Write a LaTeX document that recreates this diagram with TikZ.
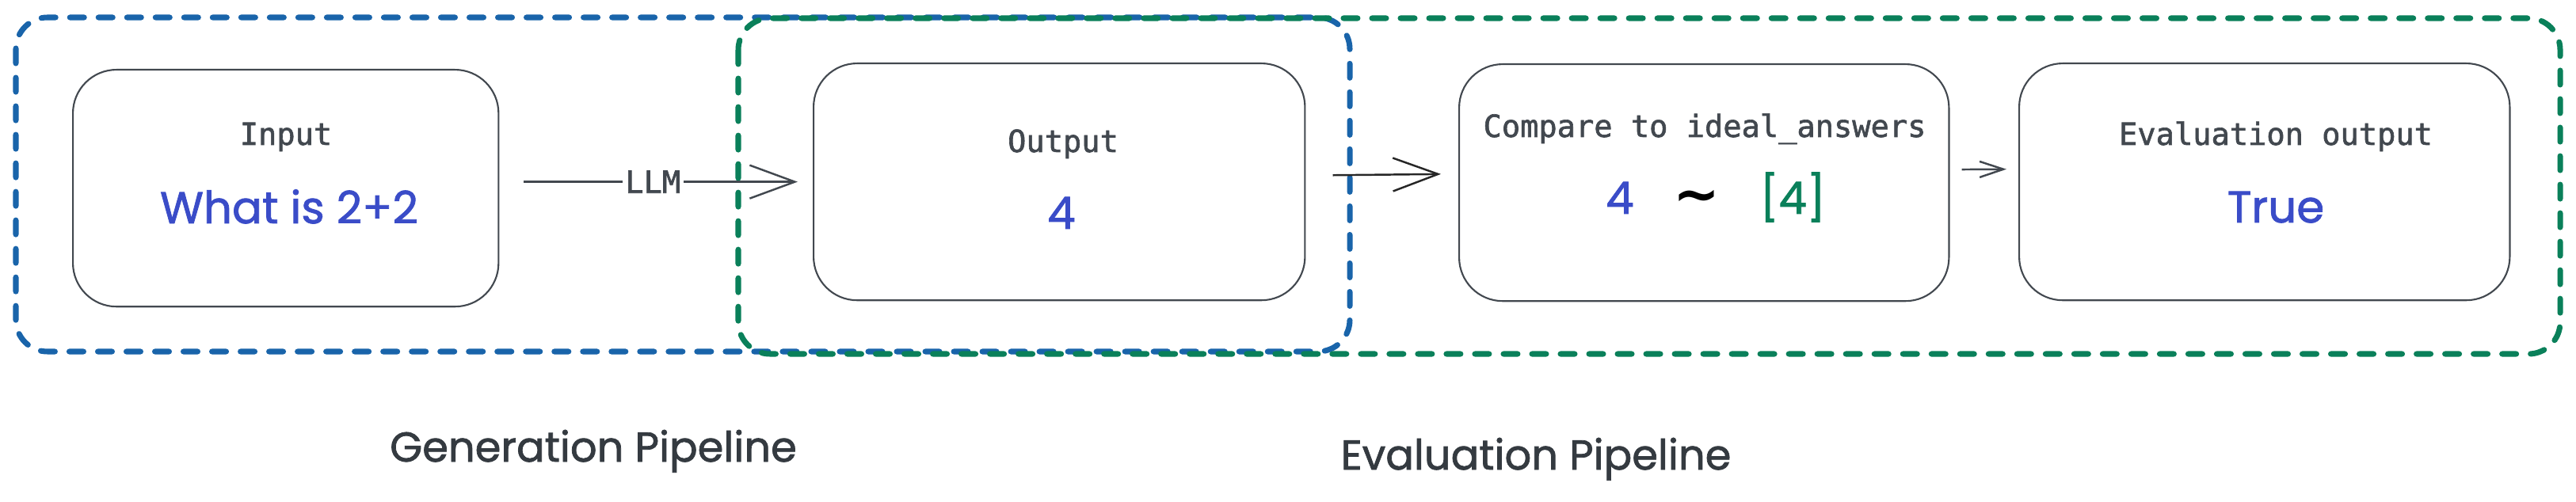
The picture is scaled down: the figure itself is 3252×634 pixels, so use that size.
\documentclass[tikz,border=0pt]{standalone}
\usepackage{fontspec}
\usepackage{xcolor}
\usepackage{tikz}
\usetikzlibrary{arrows.meta}
\newfontfamily\codefont{DejaVu Sans Mono}[FakeBold=1.6]
\newfontfamily\handfont{Poppins}[FakeBold=1.4]
\newfontfamily\symfont{DejaVu Sans}

\begin{document}
\begin{tikzpicture}[x=0.01cm, y=-0.01cm]
  % Colors
  \definecolor{gencol}{RGB}{25,100,170}
  \definecolor{evalcol}{RGB}{10,128,90}
  \definecolor{valcol}{RGB}{58,76,200}
  \definecolor{labcol}{RGB}{66,72,79}
  \definecolor{notecol}{RGB}{52,58,64}
  %
  \tikzset{
    stagebox/.style={draw=labcol, line width=0.6pt, rounded corners=0.55cm, minimum height=2.99cm,
                     inner sep=0pt, anchor=north west},
    boxtitle/.style={font=\codefont\fontsize{11}{13}\selectfont, text=labcol, anchor=base},
    boxvalue/.style={font=\handfont\fontsize{16}{19}\selectfont, text=valcol, anchor=base},
    pipe/.style={line width=2pt, dash pattern=on 0.18cm off 0.18cm, line cap=round, rounded corners=0.4cm},
    flow/.style={draw=labcol, line width=0.7pt, -{Straight Barb[length=0.57cm, width=0.42cm]}},
    pipelabel/.style={font=\handfont\fontsize{15}{18}\selectfont, text=notecol, anchor=base},
  }
  \useasboundingbox (0,0) rectangle (3252,634);
  %
  %%% PIPELINES %%%
  \draw[pipe, gencol] (20,22) rectangle (1704,444);
  \draw[pipe, evalcol] (932,23) rectangle (3232,447);
  %
  % Stage boxes
  \foreach \nm/\x/\y/\w in {input/91/87/5.37, output/1026/79/6.20, compare/1841/80/6.18, evalout/2548/79/6.19} {
    \node[stagebox, minimum width=\w cm] (\nm) at (\x, \y) {};
  }
  %
  % Titles
  \node[boxtitle] (inputtitle) at (361, 183) {Input};
  \node[boxtitle] (outputtitle) at (1342, 192) {Output};
  \node[boxtitle] (comparetitle) at (2152, 173) {Compare to ideal\_answers};
  \node[boxtitle] (evalouttitle) at (2873, 183) {Evaluation output};
  %
  % Values
  \node[boxvalue] (inputval) at (365, 282) {What is 2+2};
  \node[boxvalue] (outputval) at (1340, 289) {4};
  \node[boxvalue] (compareval) at (2166, 270)
    {4\hspace{0.5cm}\textcolor{black}{\symfont\bfseries\fontsize{20}{20}\selectfont\textasciitilde}\hspace{0.5cm}\textcolor{evalcol}{[4]}};
  \node[boxvalue] (evaloutval) at (2873, 281) {True};
  %
  % Arrows
  \draw[flow, shorten <=0.31cm, shorten >=0.19cm] (input.east |- output.west) --
    node[pos=0.49, fill=white, inner sep=1pt, font=\codefont\fontsize{11}{13}\selectfont, text=labcol] (llm) {LLM}
    (output.west);
  \draw[flow, draw=black!85, shorten <=0.34cm, shorten >=0.22cm] ([yshift=0.08cm]output.east) -- ([yshift=0.11cm]compare.west);
  \draw[flow, -{Straight Barb[length=0.30cm, width=0.20cm]}, shorten <=0.15cm, shorten >=0.15cm]
    ([yshift=0.165cm]compare.east) -- ([yshift=0.16cm]evalout.west);
  %
  % Pipeline labels
  \node[pipelabel] (genlabel) at (749, 583) {Generation Pipeline};
  \node[pipelabel] (evallabel) at (1939, 593) {Evaluation Pipeline};
\end{tikzpicture}
\end{document}
